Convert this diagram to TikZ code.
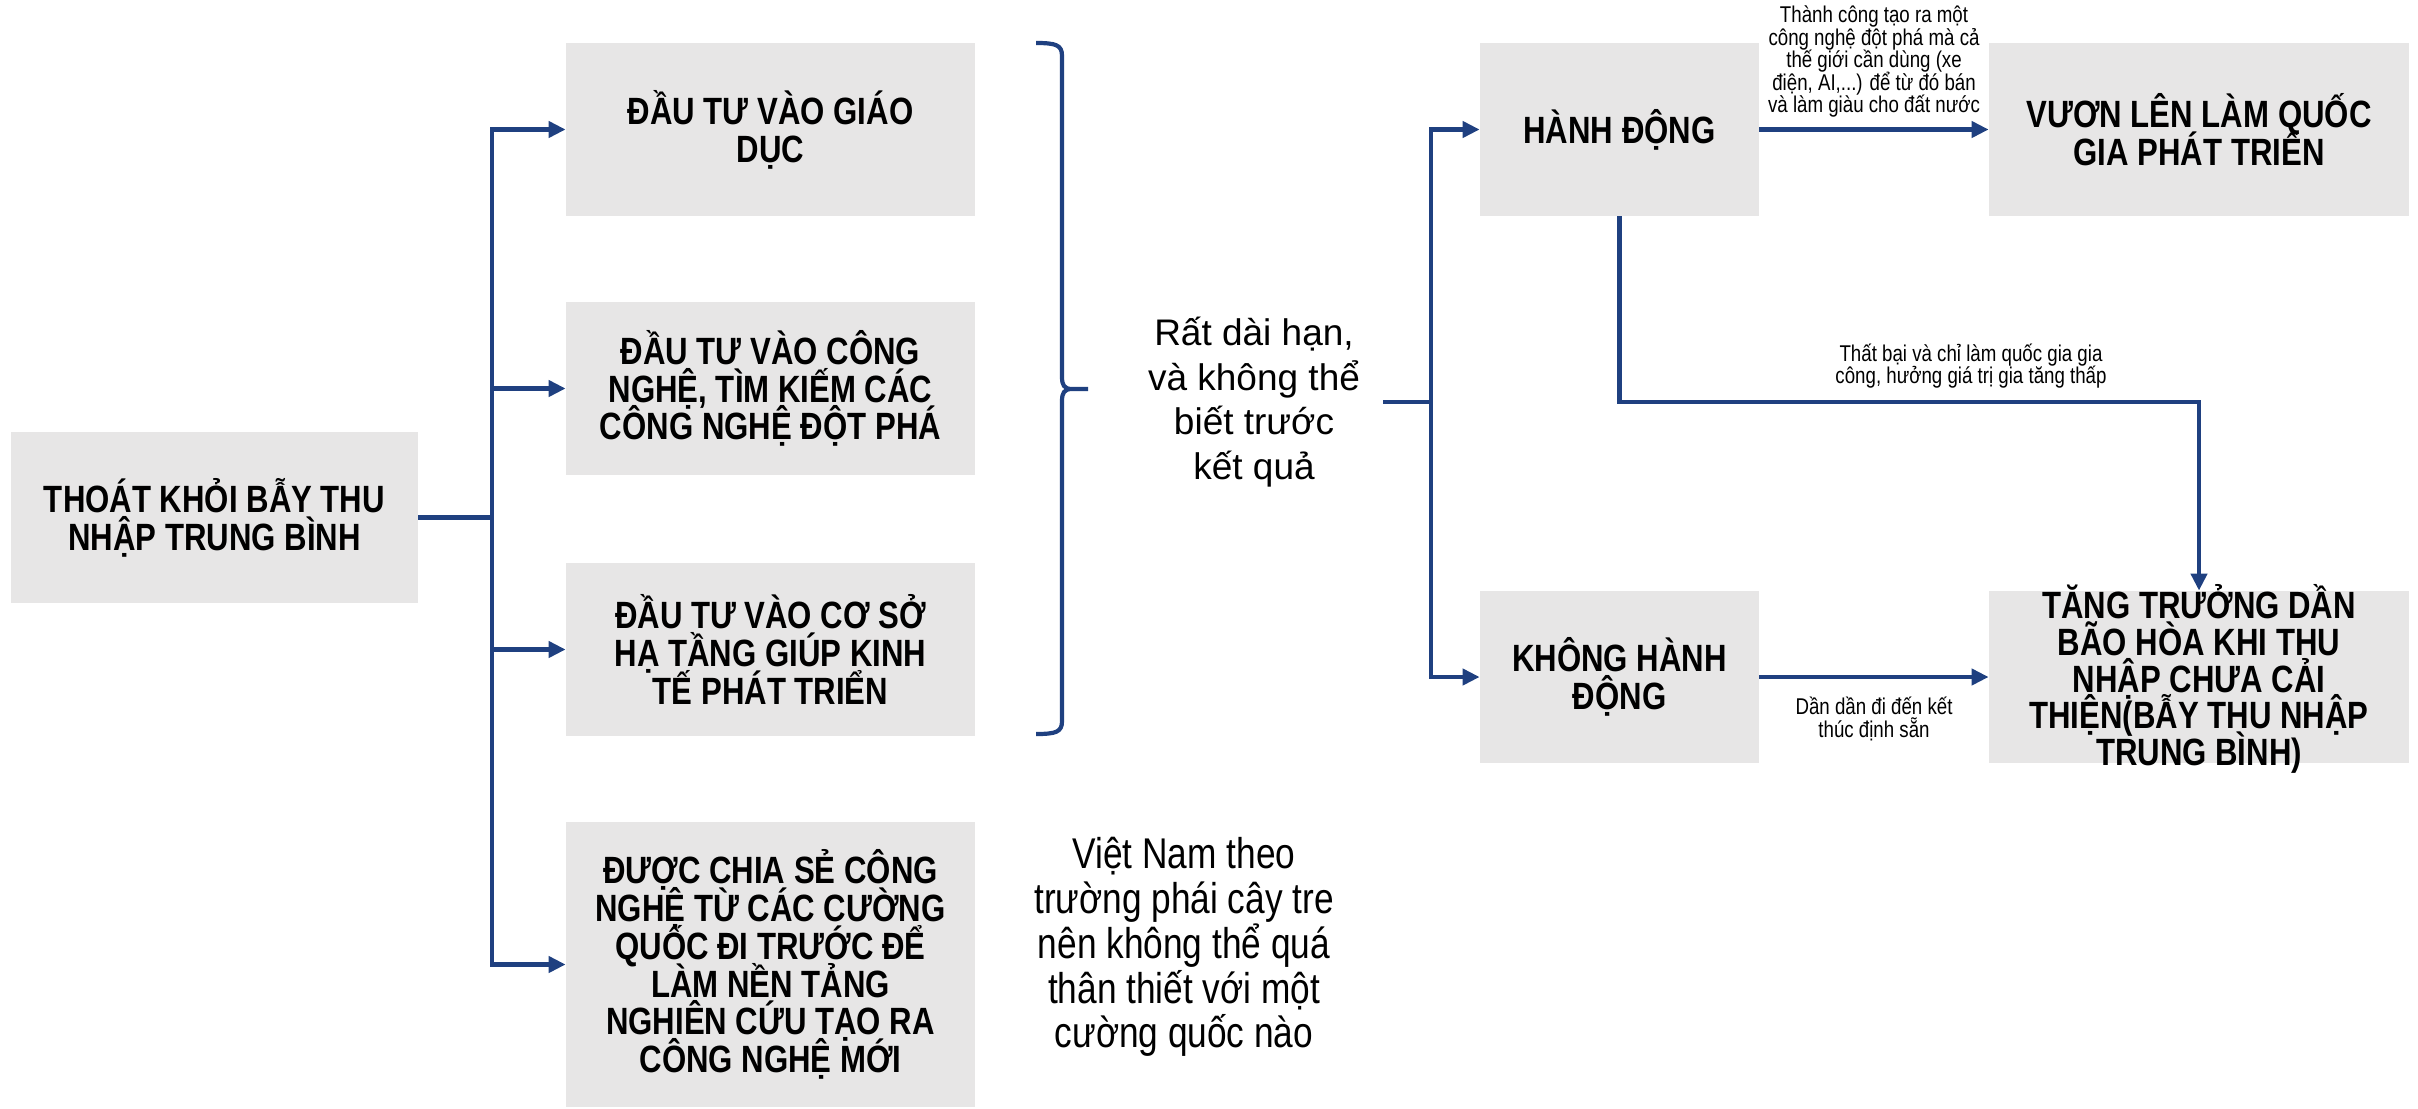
\documentclass[tikz,border=0pt]{standalone}
\usepackage{fontspec}
\setmainfont{Liberation Sans}
\newfontfamily\narrowfont{Liberation Sans}[FakeStretch=0.82]
\usetikzlibrary{
    positioning,
    arrows.meta
}
\lineskiplimit=-30pt
\definecolor{boxgray}{HTML}{E7E6E6}
\definecolor{linkblue}{HTML}{1F4080}
\tikzset{
    >={Triangle[length=8.5pt, width=8pt]},
    box/.style={
        fill=boxgray,
        inner sep=0pt,
        align=center,
        font=\narrowfont\bfseries\fontsize{19pt}{18.9pt}\selectfont
    },
    link/.style={
        draw=linkblue,
        line width=2.1pt
    },
    note/.style={
        inner sep=0pt,
        align=center,
        font=\narrowfont\fontsize{11.4pt}{11.25pt}\selectfont
    }
}

\begin{document}
\begin{tikzpicture}[
    x=50pt,
    y=-50pt
]
    \useasboundingbox (0,0) rectangle (24.18,11.08);

    % Cac o
    \node[box, minimum width=203.5pt, minimum height=85.5pt] (root) at (2.145,5.175)
        {THOÁT KHỎI BẪY THU\\NHẬP TRUNG BÌNH};
    \node[box, minimum width=204.5pt, minimum height=86.5pt] (b1) at (7.705,1.295)
        {ĐẦU TƯ VÀO GIÁO\\DỤC};
    \node[box, minimum width=204.5pt, minimum height=86.5pt] (b2) at (7.705,3.885)
        {ĐẦU TƯ VÀO CÔNG\\NGHỆ, TÌM KIẾM CÁC\\CÔNG NGHỆ ĐỘT PHÁ};
    \node[box, minimum width=204.5pt, minimum height=86.5pt] (b3) at (7.705,6.495)
        {ĐẦU TƯ VÀO CƠ SỞ\\HẠ TẦNG GIÚP KINH\\TẾ PHÁT TRIỂN};
    \node[box, minimum width=204.5pt, minimum height=142.5pt] (b4) at (7.705,9.645)
        {ĐƯỢC CHIA SẺ CÔNG\\NGHỆ TỪ CÁC CƯỜNG\\QUỐC ĐI TRƯỚC ĐỂ\\LÀM NỀN TẢNG\\NGHIÊN CỨU TẠO RA\\CÔNG NGHỆ MỚI};
    \node[box, minimum width=139.5pt, minimum height=86.5pt] (act) at (16.195,1.295)
        {HÀNH ĐỘNG};
    \node[box, minimum width=139.5pt, minimum height=86pt] (noact) at (16.195,6.77)
        {KHÔNG HÀNH\\ĐỘNG};
    \node[box, minimum width=210pt, minimum height=86.5pt] (dev) at (21.99,1.295)
        {VƯƠN LÊN LÀM QUỐC\\GIA PHÁT TRIỂN};
    \node[box, minimum width=210pt, minimum height=86pt] (trap) at (21.99,6.77) {};
    \node[box, fill=none, font=\narrowfont\bfseries\fontsize{19pt}{18.3pt}\selectfont]
        (traptext) at ([yshift=-1pt]trap.center)
        {TĂNG TRƯỞNG DẦN\\BÃO HÒA KHI THU\\NHẬP CHƯA CẢI\\THIỆN(BẪY THU NHẬP\\TRUNG BÌNH)};

    % Chu thich
    \node[align=center, inner sep=0pt, minimum width=129pt,
          font=\fontsize{18.5pt}{22.3pt}\selectfont] (longterm) at (12.54,4.02)
        {Rất dài hạn,\\và không thể\\biết trước\\kết quả};
    \node[align=center, inner sep=0pt,
          font=\narrowfont\fontsize{21.5pt}{22.4pt}\selectfont] (vnnote) at (11.84,9.47)
        {Việt Nam theo\\trường phái cây tre\\nên không thể quá\\thân thiết với một\\cường quốc nào};

    \coordinate (ltrunk) at (4.92,5.17);
    \coordinate (rtrunk) at (14.31,4.02);
    \coordinate (failrow) at (16.195,4.02);

    % Nhanh trai
    \foreach \b in {b1,b2,b3,b4}
        \draw[link, ->] (root.east) -- (root.east -| ltrunk) |- (\b.west);

    % Ngoac
    \draw[link]
        (10.36,0.43) .. controls (10.56,0.43) and (10.62,0.45) .. (10.62,0.56)
        -- (10.62,3.77) .. controls (10.62,3.85) and (10.64,3.89) .. (10.72,3.89)
        -- (10.88,3.89) -- (10.72,3.89)
        .. controls (10.64,3.89) and (10.62,3.93) .. (10.62,4.01)
        -- (10.62,7.21) .. controls (10.62,7.32) and (10.56,7.34) .. (10.36,7.34);

    % Nhanh phai
    \foreach \b in {act,noact}
        \draw[link, ->] (longterm.east) -- (rtrunk) |- (\b.west);

    % Ket qua
    \draw[link, ->] (act) -- node (succnote) [note, above=5pt]
        {Thành công tạo ra một\\công nghệ đột phá mà cả\\thế giới cần dùng (xe\\điện, AI,...) để từ đó bán\\và làm giàu cho đất nước} (dev);
    \draw[link, ->] (act.south) |- (trap.north |- failrow) -- (trap.north);
    \node[note, above=6.5pt] (failnote) at (19.71,4.02)
        {Thất bại và chỉ làm quốc gia gia\\công, hưởng giá trị gia tăng thấp};
    \draw[link, ->] (noact) -- node (slownote) [note, below=9pt]
        {Dần dần đi đến kết\\thúc định sẵn} (trap);

\end{tikzpicture}
\end{document}
